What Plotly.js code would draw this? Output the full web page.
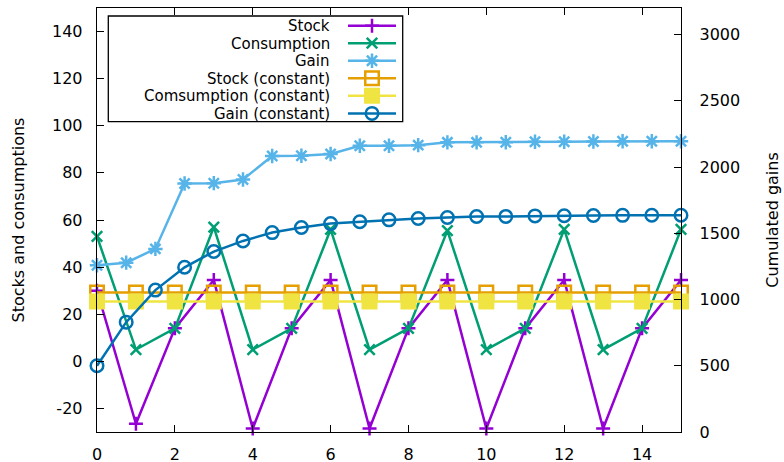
<!DOCTYPE html>
<html><head><meta charset="utf-8">
<script src="https://cdn.plot.ly/plotly-3.0.1.min.js"></script>
<style>body{margin:0;background:#fff}#c{width:784px;height:462px}</style>
</head><body><div id="c"></div>
<script>
// ---- data ----
const xInt = [0,1,2,3,4,5,6,7,8,9,10,11,12,13,14,15];
const stock = [30,-26.5,14,34.5,-28.5,14,34.5,-28.5,14,34.5,-28.5,14,34.5,-28.5,14,34.5];
const consumption = [53,5,14,57,5,14,56,5,14,55.5,5,14,56,5,14,56];
const stockConst = [29.2,29.2,29.2,29.2,29.2,29.2,29.2,29.2,29.2,29.2,29.2,29.2,29.2,29.2,29.2,29.2];
const consConst = [25.4,25.4,25.4,25.4,25.4,25.4,25.4,25.4,25.4,25.4,25.4,25.4,25.4,25.4,25.4,25.4];
const xFrac = [0,0.75,1.5,2.25,3,3.75,4.5,5.25,6,6.75,7.5,8.25,9,9.75,10.5,11.25,12,12.75,13.5,14.25,15];
const gain = [1258,1278,1382,1876,1878,1906,2083,2085,2098,2160,2160,2165,2186,2186,2187,2191,2191,2192,2194,2194,2194];
const gainConst = [500,829,1071,1243,1362,1442,1505,1543,1573,1587,1601,1611,1619,1626,1627,1631,1632,1634,1635,1636,1636];
const seriesNames = ["Stock","Consumption","Gain","Stock (constant)","Comsumption (constant)","Gain (constant)"];
const xTickVals = [0,2,4,6,8,10,12,14];
const yTickVals = [-20,0,20,40,60,80,100,120,140];
const yTickText = ["-20","0","20","40","60","80","100","120","140"];
const y2TickVals = [0,500,1000,1500,2000,2500,3000];

const FONT = "DejaVu Sans, sans-serif";
const colors = ["#9400d3","#009e73","#56b4e9","#e69f00","#f0e442","#0072b2"];
const LW = 2.5;

// plot geometry (px)
const L = 97, R = 681, T = 8, B = 432.3;
const W = R - L, H = B - T;
const px2x = p => (p - L) / W;
const px2y = p => (B - p) / H;

const ROW0 = 25.7, ROWSTEP = 17.55;
const legendNames = ["legend","legend2","legend3","legend4","legend5","legend6"];

function tr(i, x, y, yaxis, symbol, size, filled) {
  return {
    x: x, y: y, yaxis: yaxis, type: "scatter", mode: "lines+markers",
    name: "", legend: legendNames[i], showlegend: true, cliponaxis: false,
    line: {color: colors[i], width: LW},
    marker: {symbol: symbol, size: size, color: colors[i],
             line: {color: colors[i], width: filled ? 0 : LW}},
    hoverinfo: "x+y"
  };
}

const data = [
  tr(0, xInt, stock, "y", "cross-thin-open", 10, false),
  tr(1, xInt, consumption, "y", "x-thin-open", 10.5, false),
  tr(2, xFrac, gain, "y2", "asterisk-open", 12, false),
  tr(3, xInt, stockConst, "y", "square-open", 13.5, false),
  tr(4, xInt, consConst, "y", "square", 16, true),
  tr(5, xFrac, gainConst, "y2", "circle-open", 12.5, false)
];

const layout = {
  width: 784, height: 462,
  margin: {l: L, r: 784 - R, t: T, b: 462 - B, pad: 0},
  paper_bgcolor: "#fff", plot_bgcolor: "#fff",
  font: {family: FONT, size: 16, color: "#000"},
  showlegend: true,
  xaxis: {range: [0, 15], tickvals: xTickVals, ticks: "inside", ticklen: 7, tickcolor: "#000",
          showline: true, linecolor: "#000", linewidth: 1.3, mirror: "ticks",
          showgrid: false, zeroline: false, ticklabelstandoff: 7,
          tickfont: {family: FONT, size: 16}},
  yaxis: {range: [-30, 150], tickvals: yTickVals, ticktext: yTickText, ticks: "inside", ticklen: 7, tickcolor: "#000",
          showline: true, linecolor: "#000", linewidth: 1.3, showgrid: false, zeroline: false,
          ticklabelstandoff: 10, tickfont: {family: FONT, size: 16},
          title: {text: "Stocks and consumptions", font: {family: FONT, size: 16}, standoff: 23}},
  yaxis2: {range: [0, 3200], tickvals: y2TickVals, overlaying: "y", side: "right",
           ticks: "inside", ticklen: 7, tickcolor: "#000", showline: true, linecolor: "#000", linewidth: 1.3,
           showgrid: false, zeroline: false, ticklabelstandoff: 14,
           tickfont: {family: FONT, size: 16},
           title: {text: "Cumulated gains", font: {family: FONT, size: 16}, standoff: 27}},
  shapes: [{type: "rect", xref: "paper", yref: "paper",
            x0: px2x(108.3), x1: px2x(402.7), y0: px2y(121.7), y1: px2y(16),
            line: {color: "#000", width: 1.3}, fillcolor: "rgba(0,0,0,0)"}],
  annotations: seriesNames.map((n, i) => ({
    text: n, xref: "paper", yref: "paper", x: px2x(332), y: px2y(ROW0 + i * ROWSTEP),
    xanchor: "right", yanchor: "middle", showarrow: false, height: 17, valign: "middle",
    font: {family: FONT, size: 15, color: "#000"}
  }))
};
legendNames.forEach((ln, i) => {
  layout[ln] = {x: px2x(343), y: px2y(ROW0 + i * ROWSTEP), xanchor: "left", yanchor: "middle",
                bgcolor: "rgba(0,0,0,0)", borderwidth: 0, itemwidth: 48,
                font: {family: FONT, size: 12}};
});

Plotly.newPlot("c", data, layout, {displayModeBar: false, staticPlot: true});
</script></body></html>
